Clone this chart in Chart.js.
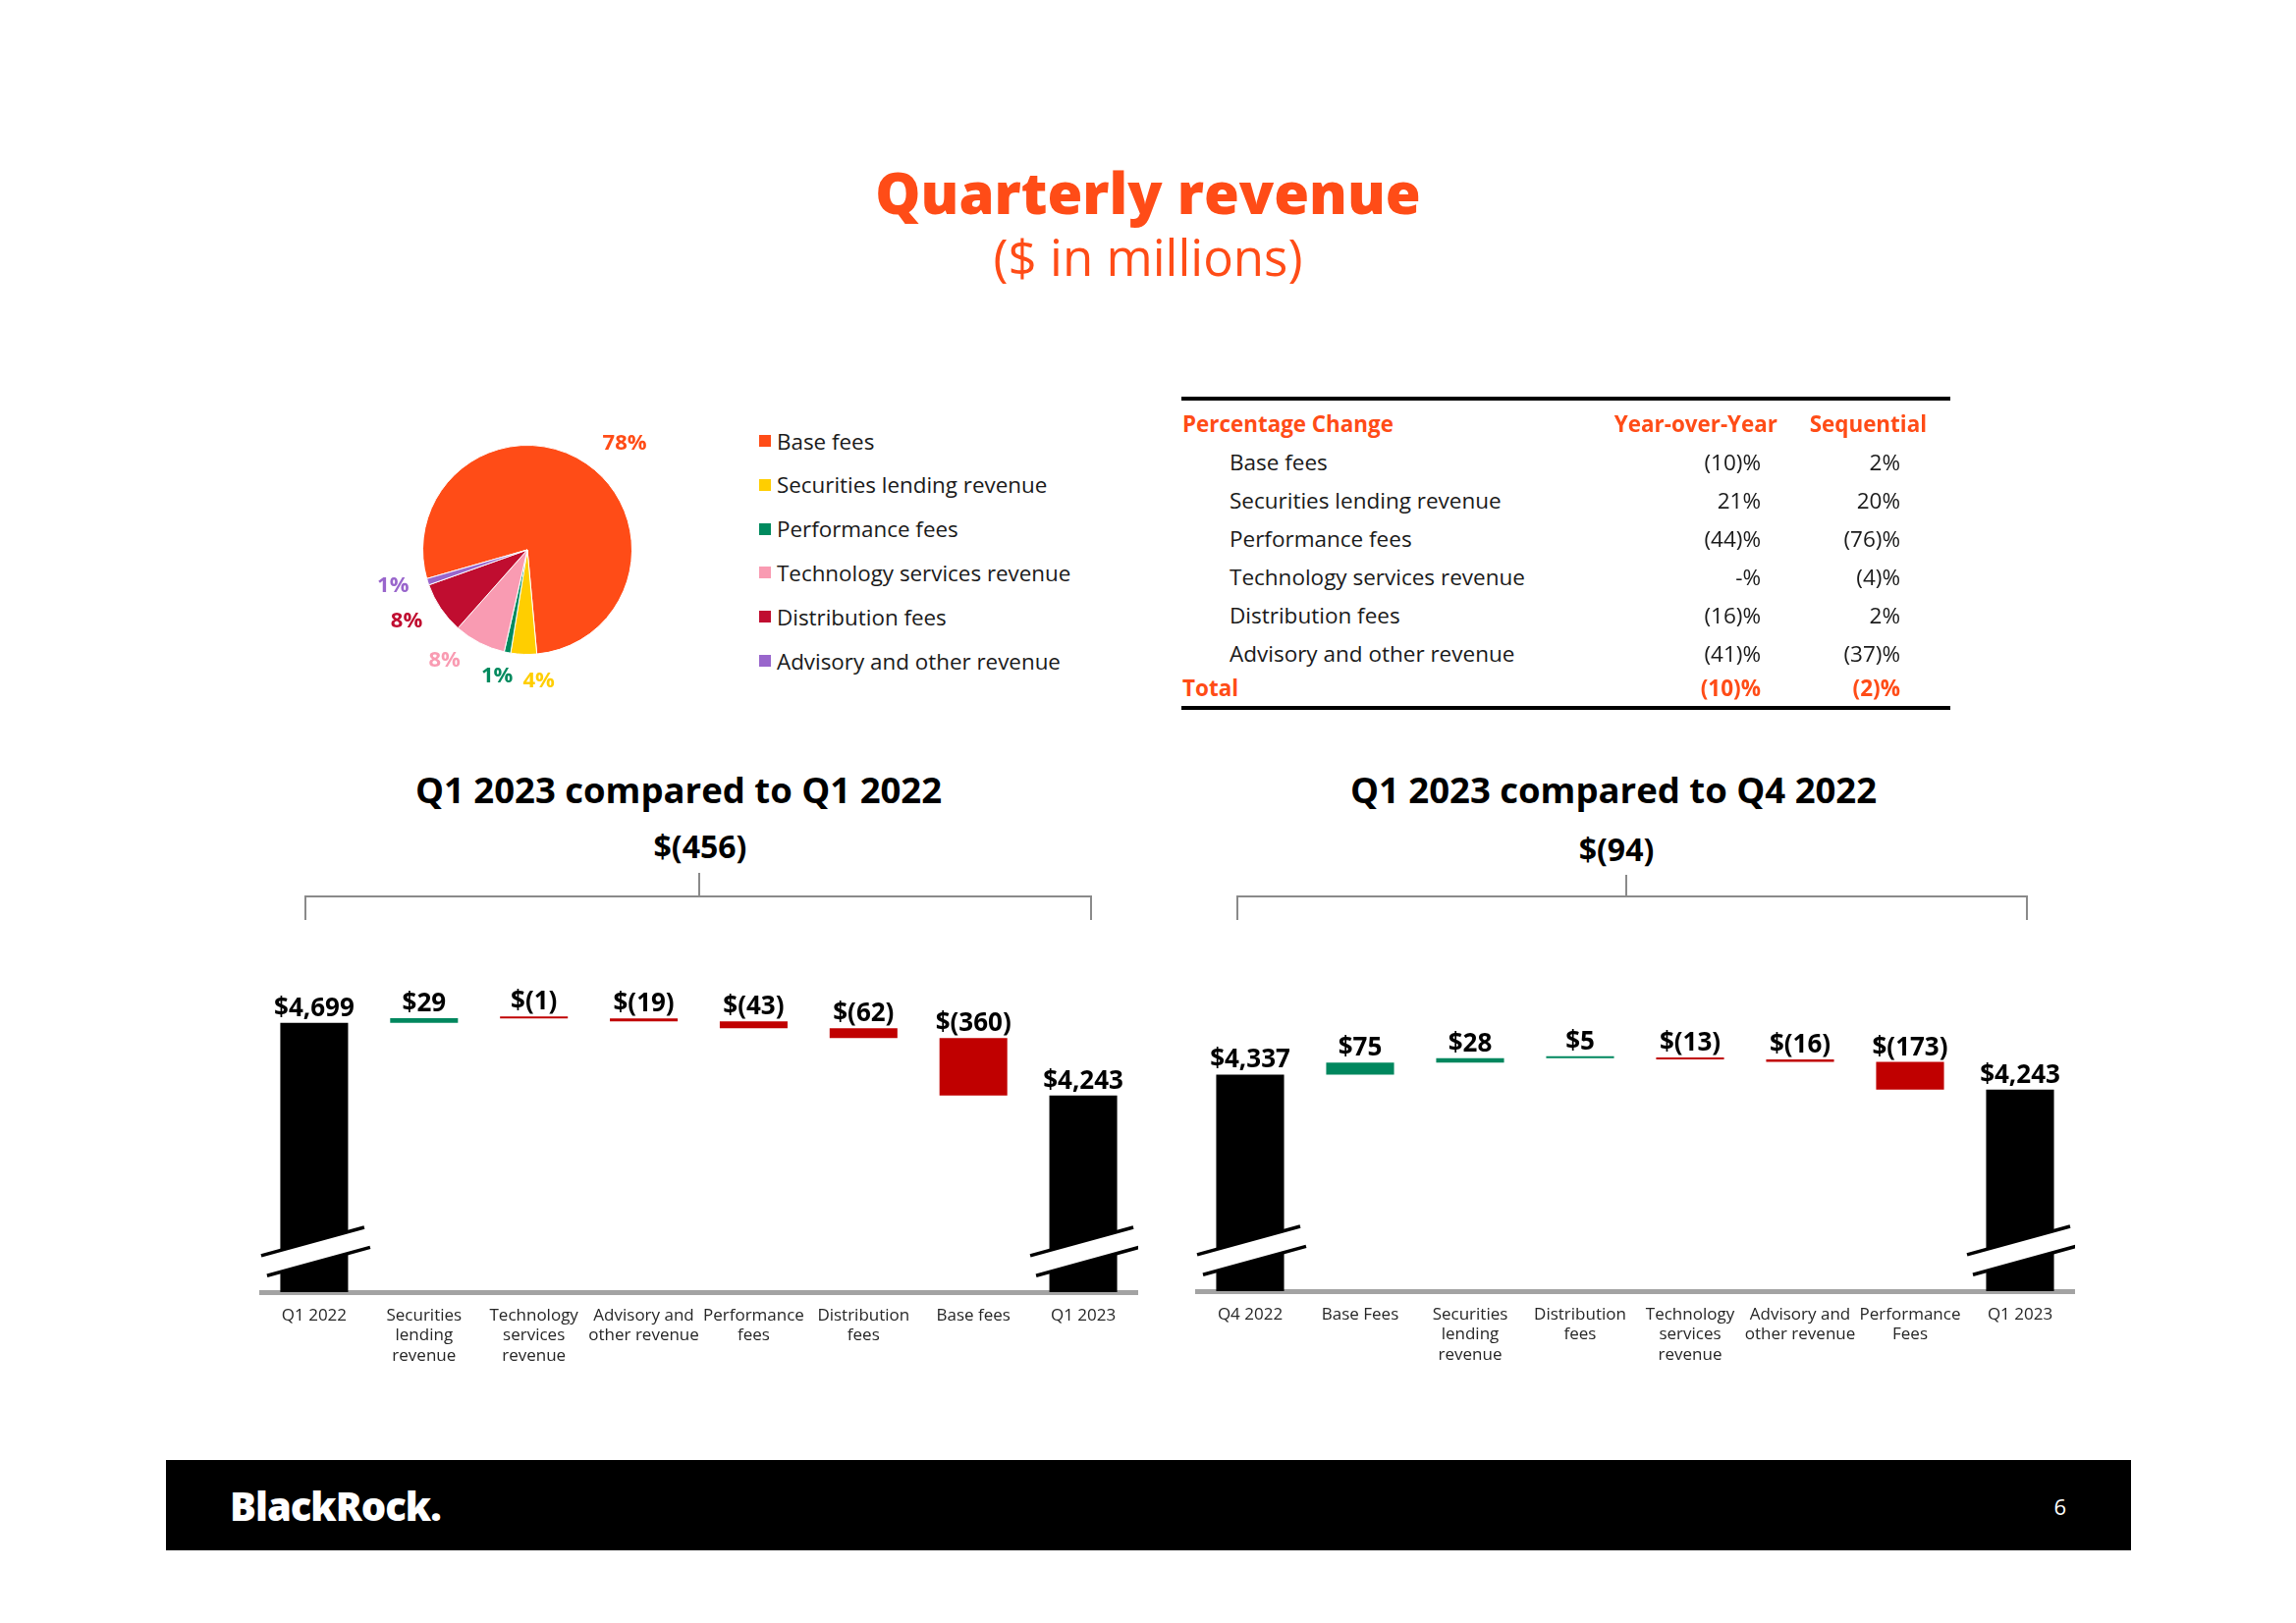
<!DOCTYPE html>
<html>
<head>
<meta charset="utf-8">
<title>Quarterly revenue</title>
<script src="https://cdn.jsdelivr.net/npm/chart.js@4.4.0/dist/chart.umd.min.js"></script>
<style>
  body { margin: 0; background: #fff; font-family: 'Open Sans', sans-serif; }
  #page { position: relative; width: 2338px; height: 1653px; overflow: hidden; background: #fff; }
  .t { position: absolute; white-space: nowrap; }
  canvas { position: absolute; }
  .gray { position: absolute; background: #8a8a8a; }
</style>
</head>
<body>
<div id="page">
  <canvas id="pie" width="360" height="320" style="left:357px;top:400px"></canvas>
  <canvas id="yoy" width="895" height="460" style="left:264px;top:960px"></canvas>
  <canvas id="qoq" width="896" height="460" style="left:1217px;top:960px"></canvas>
</div>
<script>
// ---- data ----
const mixLabels = ['Base fees', 'Securities lending revenue', 'Performance fees',
                   'Technology services revenue', 'Distribution fees', 'Advisory and other revenue'];
const mixShares = [78, 4, 1, 8, 8, 1];
const mixColors = ['#FF4C17', '#FFCE00', '#008A5E', '#F99BB2', '#C00D30', '#9966CC'];

const tableRows = ['Base fees', 'Securities lending revenue', 'Performance fees',
                   'Technology services revenue', 'Distribution fees', 'Advisory and other revenue'];
const yoyPct = ['(10)%', '21%', '(44)%', '-%', '(16)%', '(41)%'];
const seqPct = ['2%', '20%', '(76)%', '(4)%', '2%', '(37)%'];
const totalYoyPct = '(10)%';
const totalSeqPct = '(2)%';

const yoyCategories = [['Q1 2022'], ['Securities', 'lending', 'revenue'], ['Technology', 'services', 'revenue'],
                       ['Advisory and', 'other revenue'], ['Performance', 'fees'], ['Distribution', 'fees'],
                       ['Base fees'], ['Q1 2023']];
const yoyStart = 4699;
const yoyDeltas = [29, -1, -19, -43, -62, -360];
const yoyEnd = 4243;

const qoqCategories = [['Q4 2022'], ['Base Fees'], ['Securities', 'lending', 'revenue'], ['Distribution', 'fees'],
                       ['Technology', 'services', 'revenue'], ['Advisory and', 'other revenue'],
                       ['Performance', 'Fees'], ['Q1 2023']];
const qoqStart = 4337;
const qoqDeltas = [75, 28, 5, -13, -16, -173];
const qoqEnd = 4243;

// ---- style ----
const ORANGE = '#FF4C17';
const GREEN = '#00875E';
const RED = '#C00000';
const FONT = "'Open Sans', sans-serif";

const page = document.getElementById('page');

function place(text, x, y, o) {
  const d = document.createElement('div');
  d.className = 't';
  d.textContent = text;
  const size = o.size || 21;
  const lh = Math.round(size * 1.3);
  d.style.fontSize = size + 'px';
  d.style.lineHeight = lh + 'px';
  d.style.fontWeight = o.weight || 400;
  d.style.color = o.color || '#1a1a1a';
  if (o.spacing) d.style.letterSpacing = o.spacing + 'px';
  d.style.top = (y - lh / 2) + 'px';
  if (o.align === 'center') {
    d.style.left = (x - 1000) + 'px'; d.style.width = '2000px'; d.style.textAlign = 'center';
  } else if (o.align === 'right') {
    d.style.left = (x - 2000) + 'px'; d.style.width = '2000px'; d.style.textAlign = 'right';
  } else {
    d.style.left = x + 'px';
  }
  page.appendChild(d);
  return d;
}

function box(x, y, w, h, color) {
  const d = document.createElement('div');
  d.className = 'gray';
  Object.assign(d.style, { left: x + 'px', top: y + 'px', width: w + 'px', height: h + 'px' });
  if (color) d.style.background = color;
  page.appendChild(d);
}

function money(v) {
  const s = Math.abs(v).toLocaleString('en-US');
  return v < 0 ? '$(' + s + ')' : '$' + s;
}

// titles
place('Quarterly revenue', 1169, 195, { size: 58, weight: 800, color: ORANGE, align: 'center' });
place('($ in millions)', 1169, 261, { size: 51, weight: 400, color: ORANGE, align: 'center' });

// legend
mixLabels.forEach((name, i) => {
  const cy = 449 + i * 44.8;
  box(773, cy - 6, 12, 12, mixColors[i]);
  place(name, 791, cy, { size: 22.4 });
});

// table
box(1203, 404, 783, 4, '#000');
box(1203, 719, 783, 4, '#000');
place('Percentage Change', 1204, 431, { size: 22.4, weight: 700, color: ORANGE });
place('Year-over-Year', 1810, 431, { size: 22.4, weight: 700, color: ORANGE, align: 'right' });
place('Sequential', 1962, 431, { size: 22.4, weight: 700, color: ORANGE, align: 'right' });
tableRows.forEach((name, i) => {
  const cy = 470 + i * 39;
  place(name, 1252, cy, { size: 22.5 });
  place(yoyPct[i], 1793, cy, { size: 22.5, align: 'right' });
  place(seqPct[i], 1935, cy, { size: 22.5, align: 'right' });
});
place('Total', 1204, 700, { size: 22.5, weight: 700, color: ORANGE });
place(totalYoyPct, 1793, 700, { size: 22.5, weight: 700, color: ORANGE, align: 'right' });
place(totalSeqPct, 1935, 700, { size: 22.5, weight: 700, color: ORANGE, align: 'right' });

// waterfall headings + brackets
const yoyNet = yoyDeltas.reduce((a, b) => a + b, 0);
const qoqNet = qoqDeltas.reduce((a, b) => a + b, 0);
place('Q1 2023 compared to Q1 2022', 691, 804, { size: 36.5, weight: 700, color: '#000', align: 'center' });
place(money(yoyNet), 713, 862, { size: 32, weight: 700, color: '#000', align: 'center' });
place('Q1 2023 compared to Q4 2022', 1643, 804, { size: 36.5, weight: 700, color: '#000', align: 'center' });
place(money(qoqNet), 1646, 865, { size: 32, weight: 700, color: '#000', align: 'center' });

box(711, 889, 2, 24); box(310, 912, 802, 2); box(310, 912, 2, 25); box(1110, 912, 2, 25);
box(1655, 891, 2, 22); box(1259, 912, 806, 2); box(1259, 912, 2, 25); box(2063, 912, 2, 25);

// footer
box(169, 1487, 2001, 92, '#000');
place('BlackRock.', 234, 1534, { size: 40, weight: 800, color: '#fff', spacing: -1 });
place('6', 2104, 1534, { size: 22, color: '#fff', align: 'right' });

// ---- pie ----
const labelNudge = [{ da: 8, r: 1.38 }, { da: -7, r: 1.26 }, { da: 2.5, r: 1.24 },
                    { da: 9.7, r: 1.32 }, { da: 3.5, r: 1.34 }, { da: 2.7, r: 1.33 }];
const pieLabels = {
  id: 'pieLabels',
  afterDatasetsDraw(chart) {
    const ctx = chart.ctx;
    ctx.save();
    ctx.font = '700 22px ' + FONT;
    ctx.textAlign = 'center';
    ctx.textBaseline = 'middle';
    chart.getDatasetMeta(0).data.forEach((arc, i) => {
      const a = (arc.startAngle + arc.endAngle) / 2 + labelNudge[i].da * Math.PI / 180;
      const r = arc.outerRadius * labelNudge[i].r;
      ctx.fillStyle = mixColors[i];
      ctx.fillText(mixShares[i] + '%', arc.x + Math.cos(a) * r, arc.y + Math.sin(a) * r);
    });
    ctx.restore();
  }
};

new Chart(document.getElementById('pie'), {
  type: 'pie',
  data: {
    labels: mixLabels,
    datasets: [{ data: mixShares, backgroundColor: mixColors, borderColor: '#fff', borderWidth: 1 }]
  },
  options: {
    responsive: false,
    animation: false,
    rotation: 254,
    layout: { padding: { left: 73, right: 73, top: 53, bottom: 53 } },
    plugins: { legend: { display: false }, tooltip: { enabled: false } }
  },
  plugins: [pieLabels]
});

// ---- waterfalls ----
const barLabels = {
  id: 'barLabels',
  afterDatasetsDraw(chart, args, opts) {
    const ctx = chart.ctx;
    ctx.save();
    ctx.font = '700 26px ' + FONT;
    ctx.fillStyle = '#000';
    ctx.textAlign = 'center';
    ctx.textBaseline = 'alphabetic';
    chart.getDatasetMeta(0).data.forEach((bar, i) => {
      const top = Math.min(bar.y, bar.base);
      ctx.fillText(opts.texts[i], bar.x, top - 7);
    });
    // axis break marks on the two total bars
    const meta = chart.getDatasetMeta(0).data;
    [meta[0], meta[meta.length - 1]].forEach(bar => {
      const x = bar.x, yc = chart.chartArea.bottom - 41, k = 0.275, g = 11;
      ctx.fillStyle = '#fff';
      ctx.beginPath();
      ctx.moveTo(x - 54, yc - g + 54 * k);
      ctx.lineTo(x + 51, yc - g - 51 * k);
      ctx.lineTo(x + 57, yc + g - 57 * k);
      ctx.lineTo(x - 48, yc + g + 48 * k);
      ctx.closePath();
      ctx.fill();
      ctx.strokeStyle = '#000';
      ctx.lineWidth = 3.5;
      ctx.beginPath();
      ctx.moveTo(x - 54, yc - g + 54 * k); ctx.lineTo(x + 51, yc - g - 51 * k);
      ctx.moveTo(x - 48, yc + g + 48 * k); ctx.lineTo(x + 57, yc + g - 57 * k);
      ctx.stroke();
    });
    ctx.restore();
  }
};

function waterfall(id, cats, start, deltas, end, yMin, yMax, axisH) {
  const bars = [[yMin, start]];
  const colors = ['#000'];
  const texts = [money(start)];
  let run = start;
  deltas.forEach(d => {
    bars.push([run, run + d]);
    colors.push(d >= 0 ? GREEN : RED);
    texts.push(money(d));
    run += d;
  });
  bars.push([yMin, end]);
  colors.push('#000');
  texts.push(money(end));

  new Chart(document.getElementById(id), {
    type: 'bar',
    data: {
      labels: cats,
      datasets: [{ data: bars, backgroundColor: colors, borderWidth: 0,
                   barPercentage: 1, categoryPercentage: 0.617, minBarLength: 2 }]
    },
    options: {
      responsive: false,
      animation: false,
      layout: { padding: { top: 20, left: 0, right: 0, bottom: 0 } },
      scales: {
        y: { display: false, min: yMin, max: yMax },
        x: {
          z: 1,
          grid: { display: false, drawTicks: false },
          border: { display: true, color: '#a3a3a3', width: 5 },
          ticks: { color: '#262626', font: { family: FONT, size: 17, lineHeight: 1.2 },
                   padding: 14, autoSkip: false, maxRotation: 0 },
          afterFit(scale) { scale.height = axisH; }
        }
      },
      plugins: { legend: { display: false }, tooltip: { enabled: false }, barLabels: { texts } }
    },
    plugins: [barLabels]
  });
}

waterfall('yoy', yoyCategories, yoyStart, yoyDeltas, yoyEnd, 3009, 5079, 104);
waterfall('qoq', qoqCategories, qoqStart, qoqDeltas, qoqEnd, 2978, 5042, 105);
</script>
</body>
</html>
